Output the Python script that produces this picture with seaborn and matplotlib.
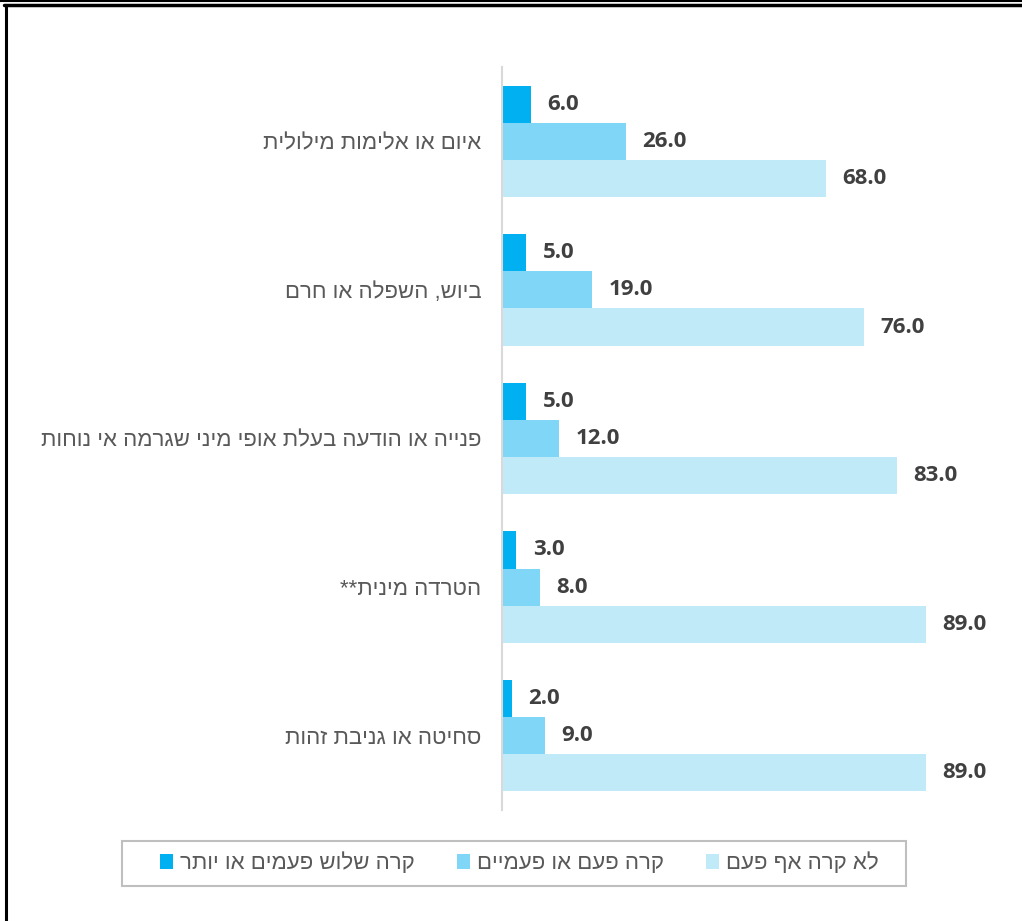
import pandas as pd
import seaborn as sns
import matplotlib.pyplot as plt
from matplotlib.patches import Patch, Rectangle
from matplotlib.lines import Line2D

categories = [
    "איום או אלימות מילולית",
    "ביוש, השפלה או חרם",
    "פנייה או הודעה בעלת אופי מיני שגרמה אי נוחות",
    "הטרדה מינית**",
    "סחיטה או גניבת זהות",
]
series = ["קרה שלוש פעמים או יותר", "קרה פעם או פעמיים", "לא קרה אף פעם"]
three_plus = [6.0, 5.0, 5.0, 3.0, 2.0]
once_twice = [26.0, 19.0, 12.0, 8.0, 9.0]
never = [68.0, 76.0, 83.0, 89.0, 89.0]
colors = ["#00B0F0", "#7FD6F7", "#C1EAF9"]


def rtl(s):
    # matplotlib has no bidi support, so flip the hebrew for display
    return s[::-1]


df = pd.DataFrame({"category": categories, series[0]: three_plus,
                   series[1]: once_twice, series[2]: never})
df = df.melt(id_vars="category", var_name="series", value_name="value")

sns.set_theme(style="white")
plt.rcParams["font.family"] = ["Liberation Sans", "DejaVu Sans"]

fig = plt.figure(figsize=(10.22, 9.21), dpi=100)
ax = fig.add_axes([502 / 1022, 1 - 810 / 921, 476 / 1022, 743 / 921])

sns.barplot(data=df, y="category", x="value", hue="series", hue_order=series,
            order=categories, palette=colors, orient="h", width=0.75,
            saturation=1, errorbar=None, edgecolor="none", linewidth=0,
            legend=False, ax=ax)

for c in ax.containers:
    ax.bar_label(c, fmt="%.1f", padding=12, fontsize=16, fontweight="bold",
                 color="#404040", family=["Open Sans", "DejaVu Sans"])

ax.set_xlim(0, 100)
ax.set_yticks(range(len(categories)))
ax.set_yticklabels([rtl(c) for c in categories], fontsize=16, color="#595959")
ax.tick_params(axis="y", length=0, pad=15)
ax.set_xticks([])
ax.set_xlabel("")
ax.set_ylabel("")
for side in ["top", "right", "bottom"]:
    ax.spines[side].set_visible(False)
ax.spines["left"].set_color("#D9D9D9")
ax.spines["left"].set_linewidth(1.5)

# legend with box drawn separately
handles = [Patch(facecolor=col, edgecolor="none", label=rtl(s)) for col, s in zip(colors, series)]
fig.legend(handles=handles, loc="center", bbox_to_anchor=(519 / 1022, 1 - 863.5 / 921),
           ncol=3, frameon=False, fontsize=16, labelcolor="#595959",
           handlelength=0.6, handleheight=0.6, handletextpad=0.3, columnspacing=1.9)
fig.patches.append(Rectangle((122 / 1022, 1 - 886 / 921), 784 / 1022, 45 / 921,
                             transform=fig.transFigure, fill=False,
                             edgecolor="#BFBFBF", linewidth=1.5))

# outer frame: double line at top, line down the left side
fig.lines.append(Line2D([0, 1], [1 - 1.5 / 921] * 2, transform=fig.transFigure, color="black", linewidth=1.5))
fig.lines.append(Line2D([4 / 1022, 1], [1 - 5.5 / 921] * 2, transform=fig.transFigure, color="black", linewidth=2.5))
fig.lines.append(Line2D([6 / 1022] * 2, [0, 1 - 5 / 921], transform=fig.transFigure, color="black", linewidth=2.2))

plt.savefig("out.png", dpi=100)
